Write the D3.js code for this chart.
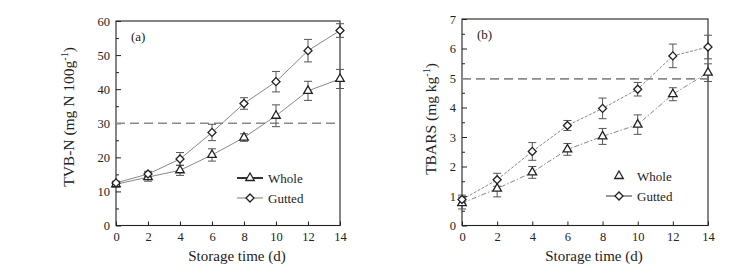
<!DOCTYPE html>
<html>
<head>
<meta charset="utf-8">
<script src="https://cdn.jsdelivr.net/npm/d3@7"></script>
<style>
  body { margin: 0; background: #fff; }
  svg text { font-family: "Liberation Serif", "Times New Roman", serif; }
</style>
</head>
<body>
<div id="chart"></div>
<script>
// storage days
var days = [0, 2, 4, 6, 8, 10, 12, 14];

// (a) TVB-N, mg N 100g-1
var tvbWhole     = [12.1, 14.2, 16.2, 20.7, 25.8, 32.2, 39.5, 43.0];
var tvbWholeErr  = [0.8, 1.2, 1.5, 1.8, 1.1, 3.2, 2.8, 2.8];
var tvbGutted    = [12.5, 15.1, 19.5, 27.3, 35.8, 42.2, 51.3, 57.2];
var tvbGuttedErr = [0.5, 0.8, 1.9, 2.4, 1.7, 3.0, 3.3, 2.0];
var tvbLimit = 30;
var tvbTicks = [0, 10, 20, 30, 40, 50, 60];

// (b) TBARS, mg kg-1
var tbarsWhole     = [0.76, 1.25, 1.80, 2.58, 3.02, 3.42, 4.45, 5.18];
var tbarsWholeErr  = [0.20, 0.28, 0.20, 0.20, 0.27, 0.33, 0.22, 0.30];
var tbarsGutted    = [0.88, 1.55, 2.51, 3.39, 3.97, 4.62, 5.75, 6.05];
var tbarsGuttedErr = [0.15, 0.22, 0.30, 0.17, 0.35, 0.23, 0.40, 0.40];
var tbarsLimit = 4.97;
var tbarsTicks = [0, 1, 2, 3, 4, 5, 6, 7];

var xTicks = [0, 2, 4, 6, 8, 10, 12, 14];

var W = 748, H = 273;
var svg = d3.select("#chart").append("svg")
  .attr("width", W).attr("height", H);

function zip(vals, errs) {
  return days.map(function (d, i) { return {x: d, y: vals[i], e: errs[i]}; });
}

var triangle = d3.symbol().type(d3.symbolTriangle).size(32);
var diamond = d3.symbol().type(d3.symbolSquare).size(32);

function drawPanel(p) {
  var g = svg.append("g");
  var x = d3.scaleLinear().domain([0, 14]).range([p.left, p.right]);
  var y = d3.scaleLinear().domain([0, p.ymax]).range([p.bottom, p.top]);

  // frame
  g.append("rect")
    .attr("x", p.left).attr("y", p.top)
    .attr("width", p.right - p.left).attr("height", p.bottom - p.top)
    .attr("fill", "none").attr("stroke", "#222").attr("stroke-width", 1.1);

  // left axis, ticks pointing in
  var ya = g.append("g").attr("transform", "translate(" + p.left + ",0)")
    .call(d3.axisLeft(y).tickValues(p.yTicks).tickSize(-5).tickPadding(6)
      .tickFormat(d3.format("d")));
  ya.select(".domain").remove();
  ya.selectAll("text").attr("font-size", 12.5).attr("fill", "#222");
  ya.selectAll("line").attr("stroke", "#222");

  var minor = g.append("g").attr("transform", "translate(" + p.left + ",0)")
    .call(d3.axisLeft(y).tickValues(p.minorTicks).tickSize(-3).tickFormat(""));
  minor.select(".domain").remove();
  minor.selectAll("line").attr("stroke", "#222");

  var xa = g.append("g").attr("transform", "translate(0," + p.bottom + ")")
    .call(d3.axisBottom(x).tickValues(xTicks).tickSize(-4).tickPadding(7));
  xa.select(".domain").remove();
  xa.selectAll("text").attr("font-size", 12.5).attr("fill", "#222");
  xa.selectAll("line").attr("stroke", "#222");

  // limit line
  g.append("line")
    .attr("x1", x(0)).attr("x2", x(14))
    .attr("y1", y(p.limit)).attr("y2", y(p.limit))
    .attr("stroke", "#8a8a8a").attr("stroke-width", 1.6)
    .attr("stroke-dasharray", "9,5");

  var line = d3.line().x(function (d) { return x(d.x); }).y(function (d) { return y(d.y); });

  p.series.forEach(function (s) {
    var data = zip(s.values, s.errs);
    g.append("path").datum(data)
      .attr("d", line).attr("fill", "none")
      .attr("stroke", "#6a6a6a").attr("stroke-width", 0.8)
      .attr("stroke-dasharray", s.dash);

    var eb = g.append("g").selectAll("g").data(data).enter().append("g")
      .attr("stroke", "#555").attr("stroke-width", 1);
    eb.append("line")
      .attr("x1", function (d) { return x(d.x); }).attr("x2", function (d) { return x(d.x); })
      .attr("y1", function (d) { return y(d.y - d.e); }).attr("y2", function (d) { return y(d.y + d.e); });
    eb.append("line")
      .attr("x1", function (d) { return x(d.x) - 4; }).attr("x2", function (d) { return x(d.x) + 4; })
      .attr("y1", function (d) { return y(d.y + d.e); }).attr("y2", function (d) { return y(d.y + d.e); });
    eb.append("line")
      .attr("x1", function (d) { return x(d.x) - 4; }).attr("x2", function (d) { return x(d.x) + 4; })
      .attr("y1", function (d) { return y(d.y - d.e); }).attr("y2", function (d) { return y(d.y - d.e); });
  });

  p.series.forEach(function (s) {
    var data = zip(s.values, s.errs);
    g.append("g").selectAll("path").data(data).enter().append("path")
      .attr("d", s.marker === "tri" ? triangle : diamond)
      .attr("transform", function (d) {
        return "translate(" + x(d.x) + "," + y(d.y) + ")" + (s.marker === "tri" ? "" : " rotate(45)");
      })
      .attr("fill", "#fff").attr("stroke", "#222").attr("stroke-width", 1.3);
  });

  // panel tag
  g.append("text").attr("x", p.left + 15).attr("y", p.top + 20)
    .attr("font-size", 13).attr("fill", "#222").text(p.tag);

  // axis titles
  g.append("text")
    .attr("x", p.xLabelX).attr("y", 261)
    .attr("text-anchor", "middle").attr("font-size", 15).attr("fill", "#222")
    .text("Storage time (d)");

  var yl = g.append("text")
    .attr("transform", "translate(" + p.yLabelX + "," + p.yLabelY + ") rotate(-90)")
    .attr("text-anchor", "middle").attr("font-size", 15.5).attr("fill", "#222");
  yl.append("tspan").text(p.yLabel);
  yl.append("tspan").attr("font-size", 10).attr("dy", -6).text("-1");
  yl.append("tspan").attr("dy", 6).text(")");

  // legend
  var lg = g.append("g");
  p.series.forEach(function (s, i) {
    var ly = p.legY + i * 20;
    if (s.legLine) {
      lg.append("line").attr("x1", p.legX - 13).attr("x2", p.legX + 13)
        .attr("y1", ly).attr("y2", ly)
        .attr("stroke", s.legLine.color).attr("stroke-width", s.legLine.width);
    }
    lg.append("path")
      .attr("d", s.marker === "tri" ? triangle : diamond)
      .attr("transform", "translate(" + p.legX + "," + ly + ")" + (s.marker === "tri" ? "" : " rotate(45)"))
      .attr("fill", "#fff").attr("stroke", "#222").attr("stroke-width", 1.3);
    lg.append("text").attr("x", p.legX + 18).attr("y", ly + 4.5)
      .attr("font-size", 13).attr("fill", "#222").text(s.name);
  });
}

drawPanel({
  tag: "(a)", left: 116, right: 340, top: 21, bottom: 225.5, ymax: 60,
  yTicks: tvbTicks, minorTicks: [5, 15, 25, 35, 45, 55], limit: tvbLimit,
  yLabel: "TVB-N (mg N 100g", yLabelX: 74, yLabelY: 117, xLabelX: 237,
  legX: 250, legY: 178,
  series: [
    {name: "Whole", values: tvbWhole, errs: tvbWholeErr, marker: "tri", dash: null,
     legLine: {color: "#333", width: 2}},
    {name: "Gutted", values: tvbGutted, errs: tvbGuttedErr, marker: "dia", dash: null,
     legLine: {color: "#777", width: 1}}
  ]
});

drawPanel({
  tag: "(b)", left: 462, right: 708, top: 19, bottom: 225.5, ymax: 7,
  yTicks: tbarsTicks, minorTicks: [0.5, 1.5, 2.5, 3.5, 4.5, 5.5, 6.5], limit: tbarsLimit,
  yLabel: "TBARS (mg kg", yLabelX: 436, yLabelY: 119, xLabelX: 594,
  legX: 619, legY: 176,
  series: [
    {name: "Whole", values: tbarsWhole, errs: tbarsWholeErr, marker: "tri", dash: "5,2,1.5,2",
     legLine: null},
    {name: "Gutted", values: tbarsGutted, errs: tbarsGuttedErr, marker: "dia", dash: "3,1.5",
     legLine: {color: "#333", width: 1}}
  ]
});
</script>
</body>
</html>
